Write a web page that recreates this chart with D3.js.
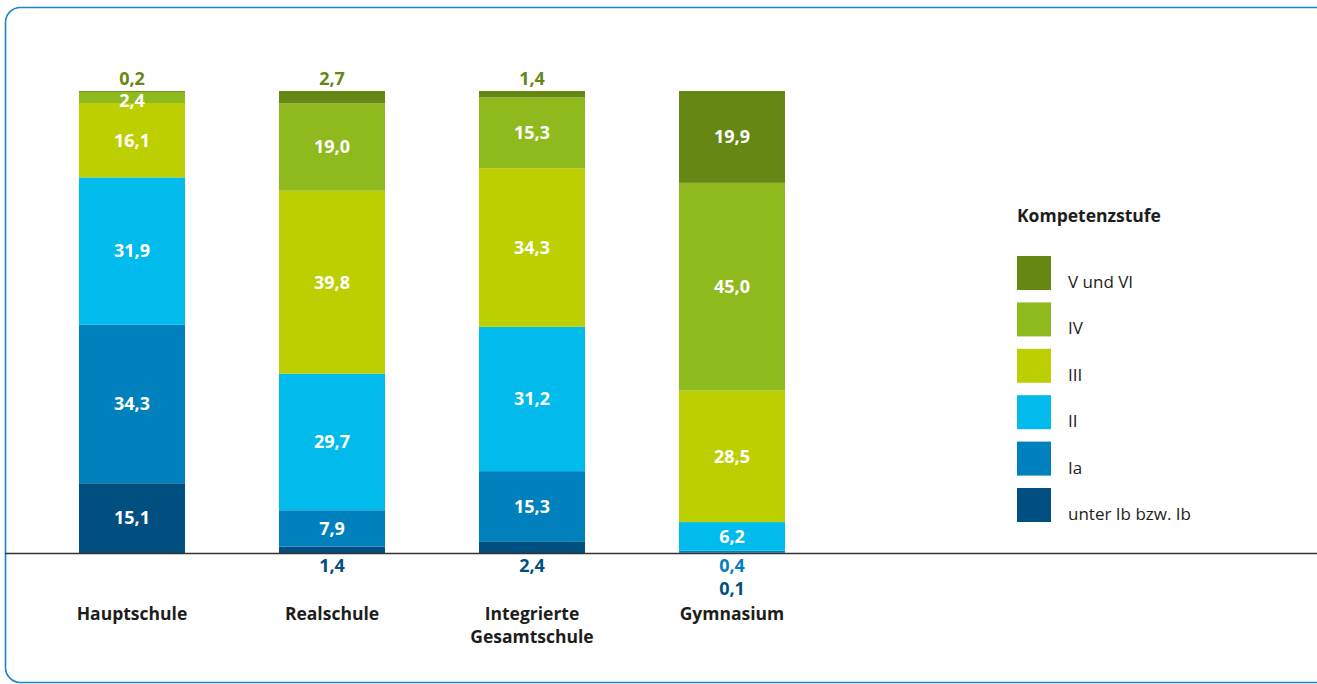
<!DOCTYPE html>
<html>
<head>
<meta charset="utf-8">
<script src="https://cdn.jsdelivr.net/npm/d3@7/dist/d3.min.js"></script>
<style>
  html, body { margin: 0; padding: 0; background: #fff; }
  svg { display: block; font-family: "Open Sans", "Noto Sans", sans-serif; }
</style>
</head>
<body>
<svg id="chart" width="1317" height="684"></svg>
<script>
// School types (x categories), possibly multi-line labels
const schools = ["Hauptschule", "Realschule", "Integrierte\nGesamtschule", "Gymnasium"];

// Competence levels, bottom to top of each stack
const levels = ["unter Ib bzw. Ib", "Ia", "II", "III", "IV", "V und VI"];
const levelColors = ["#004f80", "#0080bd", "#00bbeb", "#bccf00", "#8fba1e", "#658814"];

// Percent shares per level, one entry per school type
const unterIb = [15.1, 1.4, 2.4, 0.1];
const levelIa = [34.3, 7.9, 15.3, 0.4];
const levelII = [31.9, 29.7, 31.2, 6.2];
const levelIII = [16.1, 39.8, 34.3, 28.5];
const levelIV = [2.4, 19.0, 15.3, 45.0];
const levelV = [0.2, 2.7, 1.4, 19.9];

const seriesValues = [unterIb, levelIa, levelII, levelIII, levelIV, levelV];

const svg = d3.select("#chart");

// rounded frame
svg.append("rect")
  .attr("x", 5.5).attr("y", 7.5)
  .attr("width", 1330).attr("height", 675)
  .attr("rx", 15).attr("ry", 15)
  .attr("fill", "none")
  .attr("stroke", "#1a86c8")
  .attr("stroke-width", 1.6);

const baseY = 553, topY = 91;
const x = d3.scaleBand().domain(schools).range([32, 832]).paddingInner(0.47).paddingOuter(0.235);
// shares are stacked to the full height of 100 %
const y = d3.scaleLinear().domain([0, 1]).range([baseY, topY]);

const rows = schools.map((s, i) => {
  const r = { school: s };
  levels.forEach((l, j) => r[l] = seriesValues[j][i]);
  return r;
});
const stacked = d3.stack().keys(levels).offset(d3.stackOffsetExpand)(rows);

const fmt = v => d3.format(".1f")(v).replace(".", ",");

const g = svg.append("g");
stacked.forEach((layer, j) => {
  g.selectAll(null).data(layer).enter().append("rect")
    .attr("x", d => x(d.data.school))
    .attr("width", x.bandwidth())
    .attr("y", d => y(d[1]))
    .attr("height", d => y(d[0]) - y(d[1]))
    .attr("fill", levelColors[j]);
});

// baseline
svg.append("line")
  .attr("x1", 5).attr("x2", 1317)
  .attr("y1", baseY + 0.5).attr("y2", baseY + 0.5)
  .attr("stroke", "#333").attr("stroke-width", 1.3);

// value labels
const labels = svg.append("g").attr("font-weight", 700).attr("font-size", 18);
schools.forEach((s, i) => {
  const cx = x(s) + x.bandwidth() / 2;
  let belowRow = 0;
  // bottom-level labels placed under the baseline: Ia first, then unter Ib
  [1, 0].forEach(j => {
    const v = seriesValues[j][i];
    if (v < 3) {
      labels.append("text")
        .attr("x", cx).attr("y", 566 + belowRow * 23)
        .attr("dy", "0.35em").attr("text-anchor", "middle")
        .attr("fill", levelColors[j]).text(fmt(v));
      belowRow++;
    }
  });
  stacked.forEach((layer, j) => {
    const d = layer[i];
    const v = seriesValues[j][i];
    if ((j <= 1 || j === 5) && v < 3) {
      if (j === 5) {
        labels.append("text")
          .attr("x", cx).attr("y", 79)
          .attr("dy", "0.35em").attr("text-anchor", "middle")
          .attr("fill", levelColors[5]).text(fmt(v));
      }
      return;
    }
    const cy = (y(d[0]) + y(d[1])) / 2;
    labels.append("text")
      .attr("x", cx).attr("y", v < 3 ? cy + 3 : cy)
      .attr("dy", "0.35em").attr("text-anchor", "middle")
      .attr("fill", "#fff").text(fmt(v));
  });
});

// category axis labels
const cats = svg.append("g").attr("font-weight", 700).attr("font-size", 17.5).attr("fill", "#1d1d1b");
schools.forEach(s => {
  const cx = x(s) + x.bandwidth() / 2;
  const t = cats.append("text").attr("text-anchor", "middle").attr("x", cx).attr("y", 614);
  s.split("\n").forEach((line, k) => {
    t.append("tspan").attr("x", cx).attr("dy", k === 0 ? "0.35em" : 23).text(line);
  });
});

// legend
const legend = svg.append("g").attr("transform", "translate(1017,0)");
legend.append("text").attr("x", 0).attr("y", 216).attr("dy", "0.35em")
  .attr("font-weight", 700).attr("font-size", 17.5).attr("fill", "#1d1d1b")
  .text("Kompetenzstufe");
const legendOrder = levels.map((l, j) => j).reverse();
const ly = d3.scalePoint().domain(legendOrder).range([256, 488]);
legendOrder.forEach(j => {
  legend.append("rect").attr("x", 0).attr("y", ly(j)).attr("width", 34).attr("height", 34)
    .attr("fill", levelColors[j]);
  legend.append("text").attr("x", 51).attr("y", ly(j) + 26).attr("dy", "0.35em")
    .attr("font-size", 17).attr("fill", "#1d1d1b").text(levels[j]);
});
</script>
</body>
</html>
